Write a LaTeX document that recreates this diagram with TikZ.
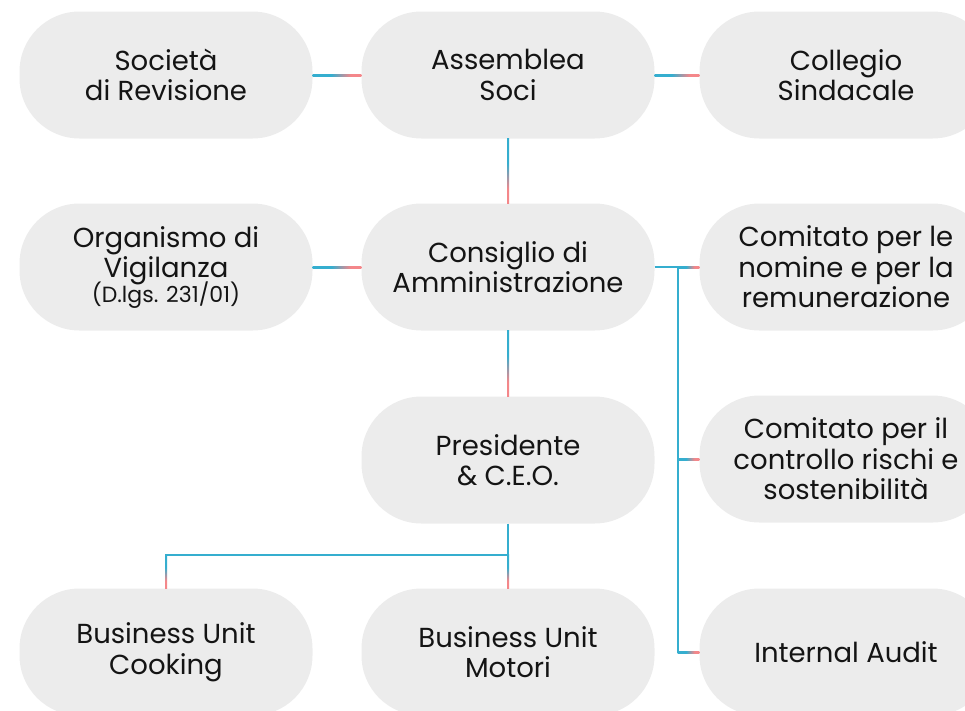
\documentclass[tikz,border=0pt]{standalone}
\usepackage{fontspec}
\setmainfont{Poppins}
\usetikzlibrary{calc}
\definecolor{boxgray}{HTML}{ECECEC}
\definecolor{lblue}{HTML}{35AECF}
\definecolor{lpink}{HTML}{F4878A}
\definecolor{txt}{HTML}{141414}
\pgfdeclarehorizontalshading{hgrad}{100bp}{color(0bp)=(lblue); color(44bp)=(lblue); color(64bp)=(lpink); color(100bp)=(lpink)}
\pgfdeclareverticalshading{vgrad}{100bp}{color(0bp)=(lpink); color(36bp)=(lpink); color(56bp)=(lblue); color(100bp)=(lblue)}
\newcommand\hconn[2]{\shade[shading=hgrad] ($(#1)+(0,-1)$) rectangle ($(#2)+(0,1)$);}
\newcommand\vconn[2]{\shade[shading=vgrad] ($(#1)+(-1,0)$) rectangle ($(#2)+(1,0)$);}
\begin{document}
\begin{tikzpicture}[x=1pt,y=-1pt,
  box/.style={fill=boxgray, rounded corners=60pt, minimum width=293pt, minimum height=127pt,
    align=center, text=txt, font=\fontsize{27.5}{30.5}\selectfont, inner sep=0pt},
  wire/.style={draw=lblue, line width=2pt}]
\useasboundingbox (0,0) rectangle (965,710);
\clip (0,0) rectangle (965,710);
% row 1
\node[box] (sr) at (166,75) {Società\\di Revisione};
\node[box] (as) at (508,75) {Assemblea\\Soci};
\node[box] (cs) at (846,75) {Collegio\\Sindacale};
% row 2
\node[box] (ov) at (166,267) {Organismo di\\Vigilanza\\[-6pt]{\fontsize{22}{24}\selectfont (D.lgs. 231/01)}};
\node[box] (cda) at (508,267) {Consiglio di\\Amministrazione};
\node[box] (c1) at (846,267) {Comitato per le\\nomine e per la\\remunerazione};
% row 3
\node[box] (pr) at (508,460) {Presidente\\\& C.E.O.};
\node[box] (c2) at (846,459) {Comitato per il\\controllo rischi e\\sostenibilità};
% row 4
\node[box] (bc) at (166,652) {Business Unit\\Cooking};
\node[box] (bm) at (508,652) {Business Unit\\Motori};
\node[box] (ia) at (846,652) {Internal Audit};
% connectors
\hconn{sr.east}{as.west}
\hconn{as.east}{cs.west}
\vconn{as.south}{cda.north}
\hconn{ov.east}{cda.west}
\vconn{cda.south}{pr.north}
\coordinate (j1) at ($(cda.east)+(23,0)$);
\coordinate (j2) at (j1 |- c2.west);
\coordinate (j3) at (j1 |- ia.west);
\draw[wire] (cda.east) -- (j1);
\draw[wire] (j1) -- ($(j3)+(0,1)$);
\hconn{j1}{c1.west}
\hconn{j2}{c2.west}
\hconn{j3}{ia.west}
\coordinate (b1) at ($(pr.south)+(0,31)$);
\coordinate (b2) at (bc.north |- b1);
\draw[wire] (pr.south) -- (b1);
\draw[wire] ($(b1)+(1,0)$) -- ($(b2)+(-1,0)$);
\vconn{b2}{bc.north}
\vconn{b1}{bm.north}
\end{tikzpicture}
\end{document}
